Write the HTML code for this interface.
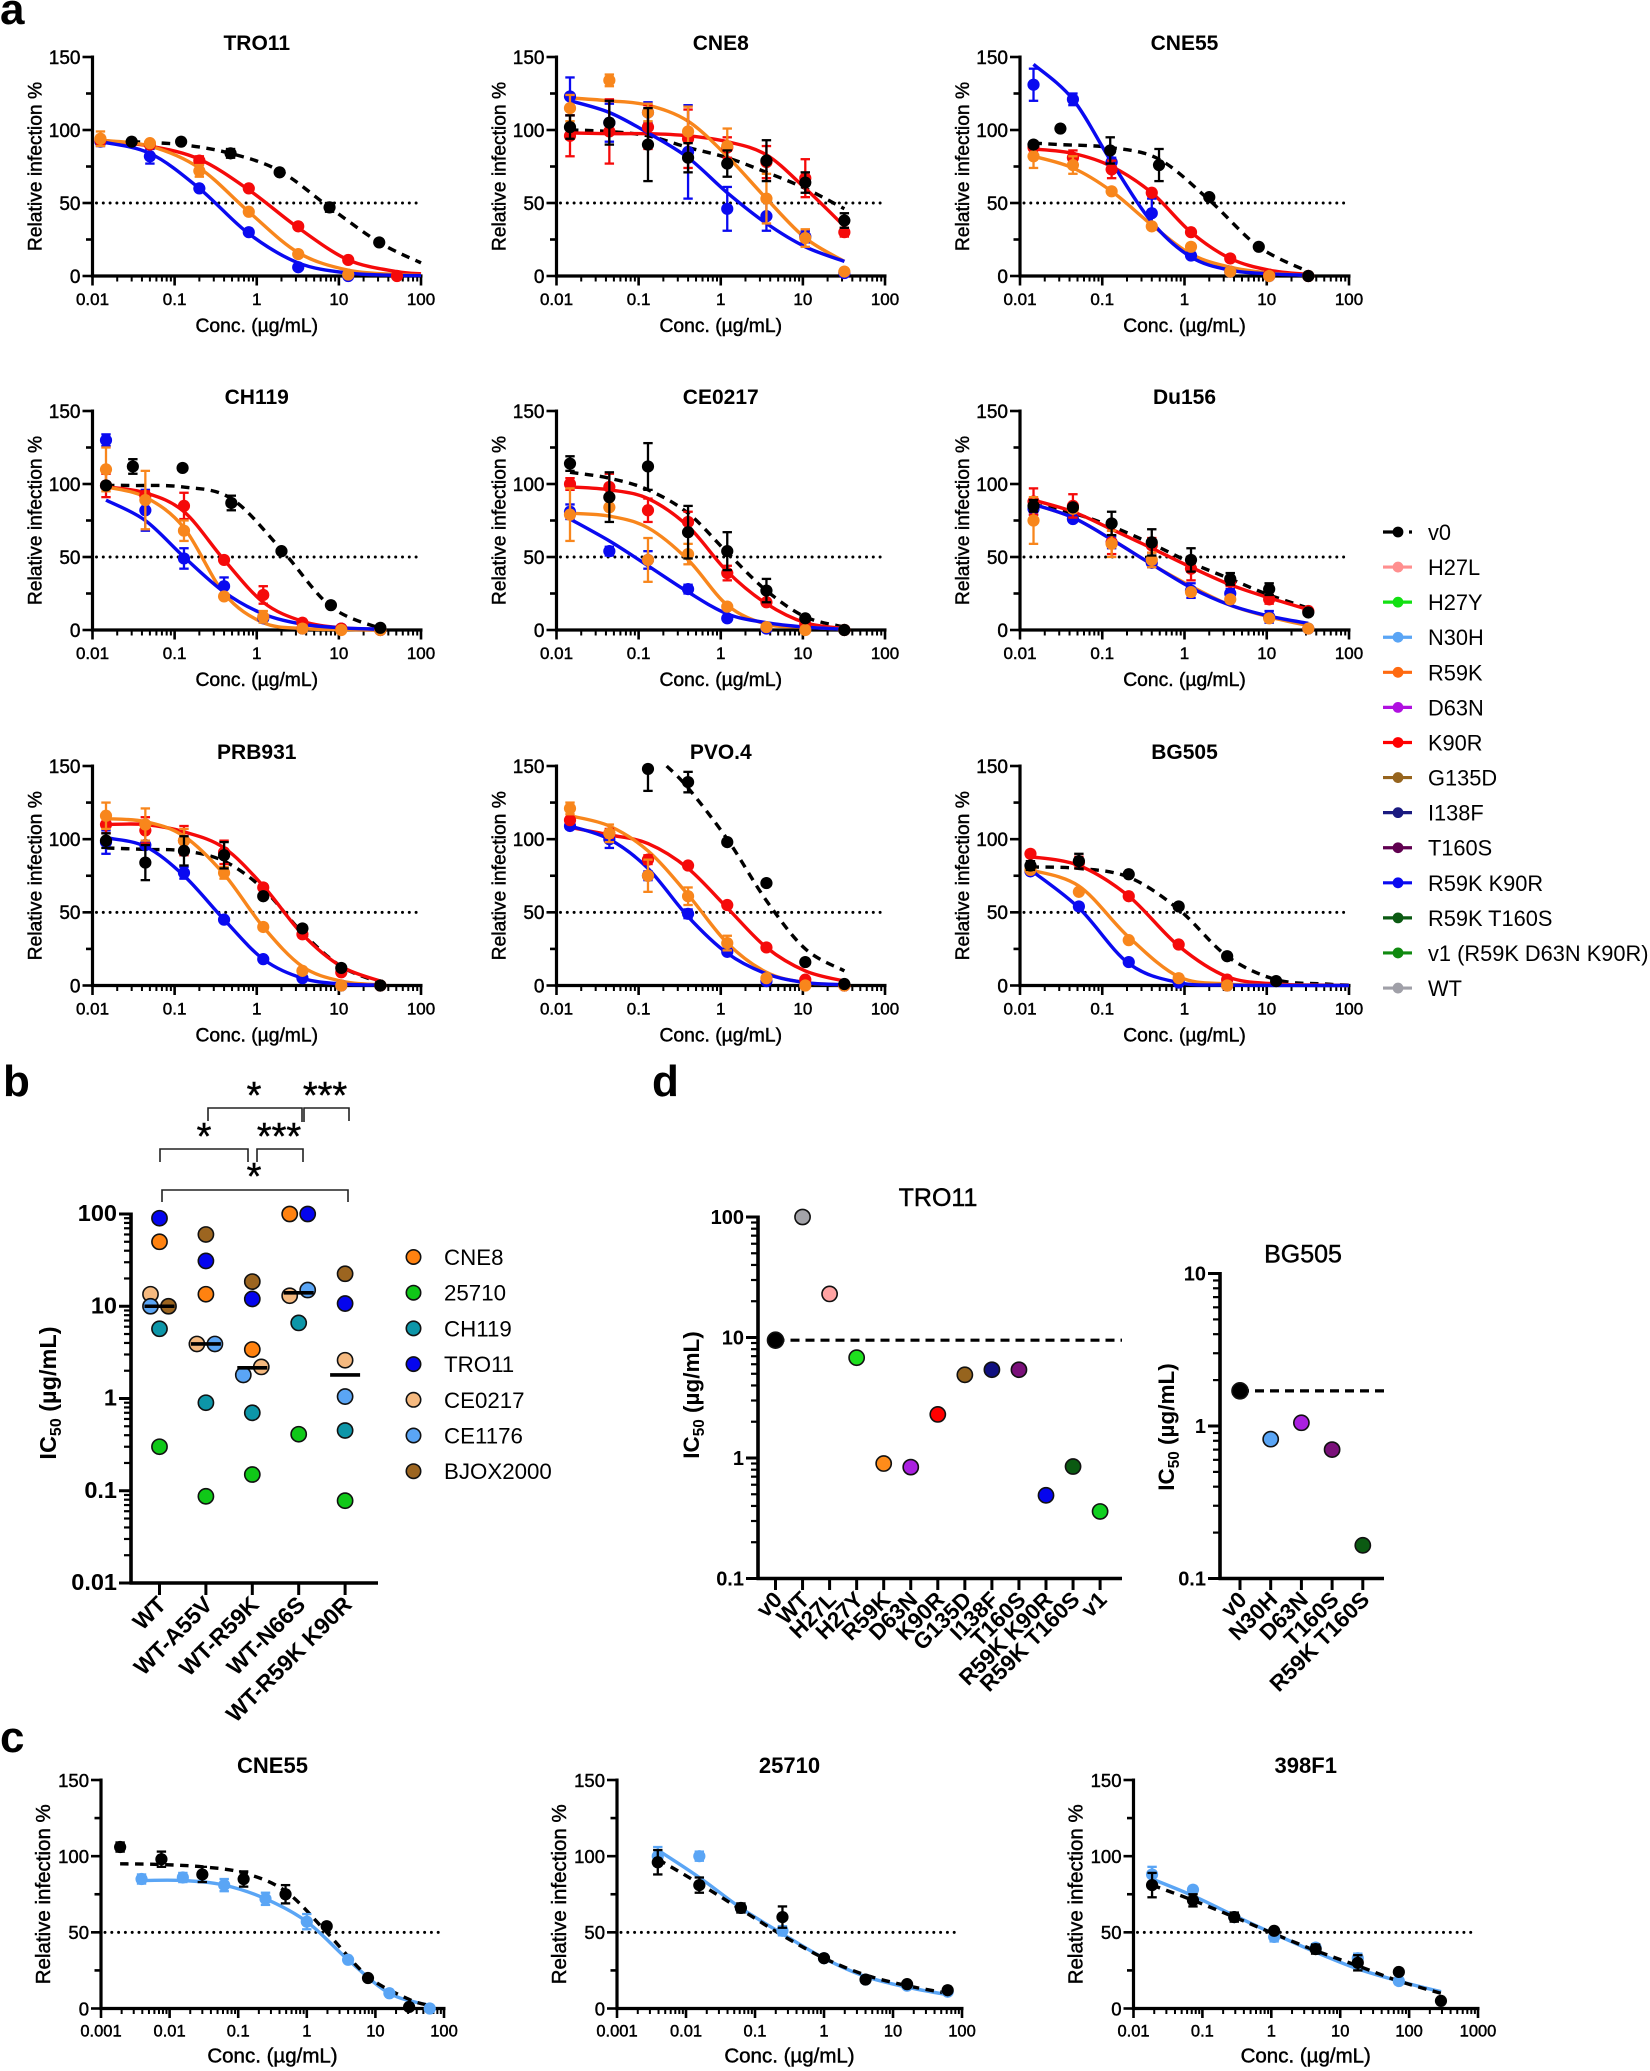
<!DOCTYPE html>
<html lang="en">
<head>
<meta charset="utf-8">
<title>Neutralization curves and IC50 panels</title>
<style>
html,body{margin:0;padding:0;background:#fff;}
svg{display:block;}
text{font-family:"Liberation Sans",Arial,sans-serif;fill:#000;}
.tk{stroke:#000;stroke-width:.45px;}
</style>
</head>
<body>
<svg id="figure" xmlns="http://www.w3.org/2000/svg" width="1650" height="2071" viewBox="0 0 1650 2071">
  <rect width="1650" height="2071" fill="#fff"/>
  <text x="0" y="24" font-size="44" font-weight="bold">a</text>
  <text x="3" y="1096" font-size="44" font-weight="bold">b</text>
  <text x="0" y="1752" font-size="44" font-weight="bold">c</text>
  <text x="652" y="1096" font-size="44" font-weight="bold">d</text>

  <g fill="none" stroke="#222" stroke-width="1.6">
    <path d="M208 1121V1108H302V1122"/>
    <path d="M304 1122V1108H349V1121"/>
    <path d="M160 1162V1149H248V1162"/>
    <path d="M257 1162V1149H303V1162"/>
    <path d="M162 1202V1190H348V1202"/>
  </g>
  <g font-size="38" text-anchor="middle" class="tk">
    <text x="254" y="1108">*</text>
    <text x="325" y="1108">***</text>
    <text x="204" y="1149">*</text>
    <text x="279" y="1149">***</text>
    <text x="254" y="1189">*</text>
  </g>
</svg>

<script>
/* ---------- shared dose axes ---------- */
const doses8 = [0.0146,0.044,0.13,0.40,1.2,3.6,10.7,32];
const dosesBlack = [0.0146,0.031,0.125,0.49,2,8,32];
const logTicksA = ['0.01','0.1','1','10','100'];
const infectionTicks = [0,25,50,75,100,125,150];
const infectionLabels = ['0','50','100','150'];

/* ---------- panel a: TRO11 ---------- */
const tro11Conc = [0.0125,0.05,0.2,0.8,3.2,13,51,100];
const tro11V0Conc = [0.03,0.12,0.48,1.9,7.7,31,100];
const tro11V0Val = [92,92,84,71,47,23,null];
const tro11V0Err = [1,1,3,1,3,1,null];
const tro11V0Fit = [92,90,84,72,47,23,9];
const tro11K90rVal = [93,90,79,60,34,11,0,null];
const tro11K90rErr = [3,1,3,1,1,1,0,null];
const tro11K90rFit = [93,89,80,59,33,11,3,1.5];
const tro11R59kVal = [94,91,72,44,15,1,null,null];
const tro11R59kErr = [5,1,4,1,2,0,null,null];
const tro11R59kFit = [93,89,74,44,16,4,1,0.5];
const tro11RkVal = [92,82,60,30,6,0,null,null];
const tro11RkErr = [3,5,1,1,1,0,null,null];
const tro11RkFit = [92,84,60,29,9,2,0.5,0.3];

/* ---------- panel a: CNE8 ---------- */
const cne8V0Val = [102,105,90,81,77,79,64,38];
const cne8V0Err = [8,15,25,10,9,14,7,5];
const cne8V0Fit = [100,99,96,88,81,71,60,46];
const cne8K90rVal = [96,99,102,94,88,78,67,30];
const cne8K90rErr = [14,22,15,20,7,11,13,3];
const cne8K90rFit = [98,97.5,97.5,96,92,83,60,34];
const cne8R59kVal = [115,134,112,99,89,53,26,3];
const cne8R59kErr = [9,4,6,17,12,17,6,1];
const cne8R59kFit = [122,120,117,106,82,53,26,10];
const cne8RkVal = [123,105,112,85,46,41,27,2];
const cne8RkErr = [13,13,7,32,15,10,4,1];
const cne8RkFit = [120,112,98,81,57,36,20,10];

/* ---------- panel a: CNE55 ---------- */
const cne55V0Val = [90,101,86,76,54,20,0];
const cne55V0Err = [2,0,9,11,0,0,0];
const cne55V0Fit = [91,90,88,80,52,20,3];
const cne55K90rVal = [88,81,73,57,30,12,1,0];
const cne55K90rErr = [4,5,6,2,1,1,0,0];
const cne55K90rFit = [87,84,75,57,30,12,4,1];
const cne55R59kVal = [82,76,58,34,20,3,0,0];
const cne55R59kErr = [8,6,1,1,2,1,0,0];
const cne55R59kFit = [82,74,58,35,15,6,2,0.5];
const cne55RkVal = [131,121,78,43,14,3,0,0];
const cne55RkErr = [11,4,3,10,1,0,0,0];
const cne55RkFit = [145,121,78,37,13,4,1.5,0.5];

/* ---------- panel a: CH119 ---------- */
const ch119V0Val = [99,112,111,87,54,17,1.5];
const ch119V0Err = [1,5,1,5,1,1,1];
const ch119V0Fit = [99,99,98,90,55,16,1];
const ch119K90rVal = [99,92,85,48,24,5,1,0];
const ch119K90rErr = [8,3,9,1,6,1,0,0];
const ch119K90rFit = [98,94,81,48,19,6,1.5,0.5];
const ch119R59kVal = [110,89,68,23,9,1,0,0];
const ch119R59kErr = [15,20,7,1,4,1,0,0];
const ch119R59kFit = [98,91,70,25,5,1,0.3,0];
const ch119RkVal = [130,82,49,30,8,1,1,0];
const ch119RkErr = [4,14,7,6,2,0,0,0];
const ch119RkFit = [89,75,50,26,11,4,1.5,0.5];

/* ---------- panel a: CE0217 ---------- */
const ce0217V0Val = [114,91,112,67,54,27,8,0];
const ce0217V0Err = [5,17,16,18,13,8,1,0];
const ce0217V0Fit = [108,104,96,80,53,27,9,2];
const ce0217K90rVal = [100,98,82,74,39,19,4,0];
const ce0217K90rErr = [4,9,8,7,5,2,1,0];
const ce0217K90rFit = [98,96,90,71,40,18,5,1];
const ce0217R59kVal = [79,84,48,52,16,2,0,0];
const ce0217R59kErr = [18,1,15,7,2,1,0,0];
const ce0217R59kFit = [80,78,70,48,17,4,2,0.5];
const ce0217RkVal = [81,54,48,28,8,1,1,0];
const ce0217RkErr = [5,3,6,3,2,0,0,0];
const ce0217RkFit = [76,61,44,26,11,5,2,0.5];

/* ---------- panel a: Du156 ---------- */
const du156V0Val = [85,84,73,60,48,35,28,12];
const du156V0Err = [4,2,8,9,8,4,4,1];
const du156V0Fit = [86,80,71,59,46,35,24,15];
const du156K90rVal = [88,85,60,58,42,33,21,13];
const du156K90rErr = [9,8,8,5,8,3,3,1];
const du156K90rFit = [89,81,69,56,43,31,22,14];
const du156R59kVal = [75,83,59,48,26,21,8,1];
const du156R59kErr = [16,2,9,5,2,2,2,1];
const du156R59kFit = [86,77,62,45,30,17,9,3];
const du156RkVal = [83,76,60,46,27,25,9,1];
const du156RkErr = [4,2,4,3,5,3,4,1];
const du156RkFit = [86,77,62,45,29,17,9.5,4.5];

/* ---------- panel a: PRB931 ---------- */
const prb931V0Val = [99,84,92,89,61,39,12,0];
const prb931V0Err = [5,12,10,9,1,2,2,1];
const prb931V0Fit = [94,93,92,85,66,36,13,2];
const prb931K90rVal = [110,106,99,91,67,35,9,0];
const prb931K90rErr = [6,9,10,8,2,2,1,0];
const prb931K90rFit = [110,110,105,94,68,35,13,3];
const prb931R59kVal = [116,110,99,77,40,10,0,0];
const prb931R59kErr = [9,11,8,4,2,1,0,0];
const prb931R59kFit = [114,112,102,76,40,13,3,0.5];
const prb931RkVal = [98,96,77,45,18,5,0,0];
const prb931RkErr = [8,2,4,1,1,1,0,0];
const prb931RkFit = [101,95,75,45,18,5,1,0.3];

/* ---------- panel a: PVO.4 ---------- */
const pvoV0Conc = [0.13,0.22,0.4,1.2,3.6,10.7,32];
const pvoV0Val = [148,null,139,98,70,16,1];
const pvoV0Err = [15,null,7,2,1,1,0];
const pvoV0Fit = [null,150,135,100,58,25,10];
const pvoK90rVal = [113,104,86,82,55,26,4,0];
const pvoK90rErr = [2,3,3,1,1,1,1,0];
const pvoK90rFit = [108,103,97,80,53,26,10,3];
const pvoR59kVal = [121,104,75,61,29,5,0,0];
const pvoR59kErr = [4,6,11,6,5,2,0,0];
const pvoR59kFit = [116,109,92,62,29,9,2,0.5];
const pvoRkVal = [109,100,75,49,23,3,1,0];
const pvoRkErr = [2,6,3,3,1,1,0,0];
const pvoRkFit = [109,100,80,47,22,8,2,0.5];

/* ---------- panel a: BG505 ---------- */
const bg505Conc = [0.0134,0.052,0.21,0.85,3.3,13,51,100];
const bg505V0Val = [82,85,76,54,20,3,null,null];
const bg505V0Err = [3,5,1,1,1,0,null,null];
const bg505V0Fit = [81,80,74,52,20,4,1,0.3];
const bg505K90rVal = [90,84,61,28,4,null,null,null];
const bg505K90rErr = [2,4,1,1,1,null,null,null];
const bg505K90rFit = [88,82,61,27,6,1,0.3,0.1];
const bg505R59kVal = [79,64,31,5,0,null,null,null];
const bg505R59kErr = [1,1,1,1,0,null,null,null];
const bg505R59kFit = [79,68,33,6,1,0.2,0.1,0];
const bg505RkVal = [78,54,16,2,0,null,null,null];
const bg505RkErr = [1,2,1,1,0,null,null,null];
const bg505RkFit = [79,53,15,2,0.3,0.1,0,0];

/* ---------- panel c ---------- */
const cCne55V0Conc = [0.0019,0.0076,0.03,0.12,0.49,1.95,7.8,31,62];
const cCne55V0Val = [106,98,88,85,75,54,20,1,null];
const cCne55V0Err = [3,5,5,5,6,1,1,0,null];
const cCne55V0Fit = [95,94.5,93,89,77,50,21,6,2];
const cDoses = [0.0039,0.0156,0.0625,0.25,1,4,16,62];
const cCne55N30hVal = [85,86,81,72,57,32,10,0];
const cCne55N30hErr = [3,3,4,4,5,1,1,0];
const cCne55N30hFit = [84,84,81,72,57,32,10,2];
const c25710V0Val = [96,81,66,60,33,19,16,12];
const c25710V0Err = [8,5,3,7,1,2,1,1];
const c25710V0Fit = [98,82,65,48,33,22,15,10];
const c25710N30hVal = [100,100,66,51,33,19,15,11];
const c25710N30hErr = [6,3,2,3,1,1,1,1];
const c25710N30hFit = [104,86,66,49,33,21,14,9];
const c398Doses = [0.0186,0.073,0.29,1.1,4.4,18,71,290];
const c398V0Val = [81,71,60,51,39,30,24,5];
const c398V0Err = [8,4,3,1,3,5,1,1];
const c398V0Fit = [81,71,60,49,38,28,18,10];
const c398N30hVal = [88,78,60,47,40,33,18,null];
const c398N30hErr = [5,2,2,3,2,3,2,null];
const c398N30hFit = [85,74,61,49,37,26,18,11];

/* ---------- panel b ---------- */
const bCategories = ['WT','WT-A55V','WT-R59K','WT-N66S','WT-R59K K90R'];
const bStrains = ['BJOX2000','CNE8','TRO11','CE0217','CE1176','CH119','25710'];
const bjox2000Ic50 = [10,60,18.5,null,22.5];
const cne8Ic50 = [50,13.5,3.4,100,null];
const tro11Ic50 = [90,31,12,100,10.7];
const ce0217Ic50 = [13.5,3.9,2.2,13,2.6];
const ce1176Ic50 = [10,3.9,1.8,15,1.05];
const ch119Ic50 = [5.7,0.9,0.7,6.6,0.45];
const strain25710Ic50 = [0.3,0.087,0.15,0.41,0.078];
const bMedians = [10,3.9,2.15,14,1.8];
const bTickLabels = ['0.01','0.1','1','10','100'];

/* ---------- panel d ---------- */
const dTroCategories = ['v0','WT','H27L','H27Y','R59K','D63N','K90R','G135D','I138F','T160S','R59K K90R','R59K T160S','v1'];
const dTroIc50 = [9.5,100,23,6.8,0.9,0.84,2.3,4.9,5.4,5.4,0.49,0.85,0.36];
const dTroTicks = ['0.1','1','10','100'];
const dBgCategories = ['v0','N30H','D63N','T160S','R59K T160S'];
const dBgIc50 = [1.7,0.82,1.05,0.7,0.165];
const dBgTicks = ['0.1','1','10'];

/* ---------- legends ---------- */
const legendLabels = ['v0','H27L','H27Y','N30H','R59K','D63N','K90R','G135D','I138F','T160S','R59K K90R','R59K T160S','v1 (R59K D63N K90R)','WT'];
const bLegendLabels = ['CNE8','25710','CH119','TRO11','CE0217','CE1176','BJOX2000'];

/* ---------- styles, kept apart from the data ---------- */
const COL = {v0:'#000',H27L:'#ff8f8f',H27Y:'#12e012',N30H:'#5aa5f5',R59K:'#f8861c',R59Kleg:'#ff6a10',D63N:'#b010e0',K90R:'#f50a0a',G135D:'#96641e',I138F:'#1a1a80',T160S:'#600050',RK:'#0a0af0',RT:'#0b5a12',V1:'#108a10',WT:'#a0a0a8'};
const legendColors = [COL.v0,COL.H27L,COL.H27Y,COL.N30H,COL.R59Kleg,COL.D63N,'#ff0000',COL.G135D,COL.I138F,COL.T160S,COL.RK,COL.RT,COL.V1,COL.WT];
const strainColor = {CNE8:'#ff8210','25710':'#10c818',CH119:'#0d96a8',TRO11:'#0505ee',CE0217:'#f5b97f',CE1176:'#5aa5f5',BJOX2000:'#9c6520'};
const dTroColors = ['#000','#a3a3a8','#ffa3a3','#1ee01e','#ff8c1a','#aa20e0','#ff0000','#96641e','#101080','#7a107a','#0505ee','#0b5a12','#10d020'];
const dBgColors = ['#000','#5aa5f5','#aa20e0','#7a107a','#0b5a12'];
const pointRank = {'R59K K90R':0,'N30H':0,'K90R':1,'R59K':2,'v0':3};
const swarmOffset = {'WT|CE0217':-9,'WT|CE1176':-9,'WT|BJOX2000':9,'WT-A55V|CE0217':-9,'WT-A55V|CE1176':9,'WT-R59K|CE0217':9,'WT-R59K|CE1176':-9,'WT-N66S|CNE8':-9,'WT-N66S|TRO11':9,'WT-N66S|CE0217':-9,'WT-N66S|CE1176':9};

const svg = document.getElementById('figure');
const NS = 'http://www.w3.org/2000/svg';
function mk(tag, attrs, parent){
  const n = document.createElementNS(NS, tag);
  for(const k in attrs){ n.setAttribute(k, attrs[k]); }
  (parent||svg).appendChild(n);
  return n;
}
function line(parent,x1,y1,x2,y2,stroke,w,nm){
  const l = mk('line',{x1:x1,y1:y1,x2:x2,y2:y2,stroke:stroke,'stroke-width':w},parent);
  
  
  return l;
}
function label(parent,x,y,str,size,anchor,weight,nm,transform){
  const t = mk('text',{x:x,y:y,'font-size':size,'text-anchor':anchor,'font-weight':weight,class:weight==='bold'?'':'tk'},parent);
  t.textContent = str;
  if(transform){ t.setAttribute('transform',transform); }
  
  
  return t;
}
function slug(s){ return String(s).toLowerCase().replace(/[^a-z0-9]+/g,'-').replace(/^-|-$/g,''); }
function smoothPath(pts){
  let d = 'M'+pts[0][0].toFixed(1)+' '+pts[0][1].toFixed(1);
  for(let i=0;i<pts.length-1;i++){
    const p0=pts[Math.max(i-1,0)],p1=pts[i],p2=pts[i+1],p3=pts[Math.min(i+2,pts.length-1)];
    const c1x=p1[0]+(p2[0]-p0[0])/6,c1y=p1[1]+(p2[1]-p0[1])/6;
    const c2x=p2[0]-(p3[0]-p1[0])/6,c2y=p2[1]-(p3[1]-p1[1])/6;
    d+=' C'+c1x.toFixed(1)+' '+c1y.toFixed(1)+' '+c2x.toFixed(1)+' '+c2y.toFixed(1)+' '+p2[0].toFixed(1)+' '+p2[1].toFixed(1);
  }
  return d;
}

/* dose-response panel */
function dosePanel(o){
  const g = mk('g',{});
  
  
  const xs = v => o.x0+(Math.log10(v)-o.lo)/(o.hi-o.lo)*(o.x1-o.x0);
  const ys = v => o.y0+(v/150)*(o.y150-o.y0);
  const mx = (o.x0+o.x1)/2;
  label(g,mx,o.y150-o.titleDy,o.title,o.titleSize,'middle','bold','chart-title');
  const ylx = o.x0-o.ylabOff, ylc = (o.y0+o.y150)/2;
  label(g,ylx,ylc,'Relative infection %',o.labelSize,'middle','normal','y-axis-title','rotate(-90 '+ylx+' '+ylc+')');
  label(g,mx,o.y0+o.conDy,'Conc. (µg/mL)',o.labelSize,'middle','normal','x-axis-title');
  /* dotted 50 line */
  const d = line(g,o.x0+4,ys(50),o.x1-3,ys(50),'#000',3,'reference-line-50');
  d.setAttribute('stroke-dasharray','0 6.8');
  d.setAttribute('stroke-linecap','round');
  /* axes */
  line(g,o.x0,o.y150-1.5,o.x0,o.y0+1.5,'#000',3.2,'y-axis');
  line(g,o.x0-1.5,o.y0,o.x1+1.5,o.y0,'#000',3.2,'x-axis');
  infectionTicks.forEach(v=>{
    const major = infectionLabels.indexOf(String(v))>=0;
    line(g,o.x0-(major?10:6.5),ys(v),o.x0,ys(v),'#000',2.6,'y-tick-'+v);
    if(major){ label(g,o.x0-12,ys(v)+6.8,String(v),o.tickSize+2,'end','normal','y-tick-label-'+v); }
  });
  o.xTicks.forEach((lab,i)=>{
    const dec = o.lo+i;
    const px = xs(Math.pow(10,dec));
    line(g,px,o.y0,px,o.y0+9.5,'#000',2.6,'x-tick-'+slug(lab));
    label(g,px,o.y0+o.tickDy,lab,o.tickSize,'middle','normal','x-tick-label-'+slug(lab));
    if(i<o.xTicks.length-1){
      for(let m=2;m<10;m++){
        const mp = xs(m*Math.pow(10,dec));
        line(g,mp,o.y0,mp,o.y0+5.5,'#000',2,'x-minor-tick');
      }
    }
  });
  /* fitted curves first, listed order */
  o.series.forEach(s=>{
    const pts = [];
    s.conc.forEach((c,i)=>{ if(s.fit[i]!==null){ pts.push([xs(c),ys(s.fit[i])]); } });
    const attrs = {d:smoothPath(pts),fill:'none',stroke:s.color,'stroke-width':3.4};
    if(s.dash){ attrs['stroke-dasharray']='8.5 6.5'; }
    const fit = mk('path',attrs,g);
    
    
  });
  /* points and error bars above the curves */
  o.series.slice().sort((a,b)=>pointRank[a.name]-pointRank[b.name]).forEach(s=>{
    const sg = mk('g',{},g);
    
    
    s.conc.forEach((c,i)=>{
      const v = s.val[i];
      if(v===null){ return; }
      const px = xs(c), py = ys(v), e = s.err[i];
      if(e){
        const hi = ys(Math.min(v+e,150)), lo = ys(Math.max(v-e,0));
        line(sg,px,hi,px,lo,s.color,2.3,'error-bar');
        if(v+e<=150){ line(sg,px-4.7,hi,px+4.7,hi,s.color,2.3,'error-cap'); }
        line(sg,px-4.7,lo,px+4.7,lo,s.color,2.3,'error-cap');
      }
      const dot = mk('circle',{cx:px,cy:py,r:6.1,fill:s.color},sg);
      
      
    });
  });
}
function makeSeries(name,color,conc,val,err,fit,dash){
  return {name:name,color:color,conc:conc,val:val,err:err,fit:fit,dash:!!dash};
}
function fourSeries(v0Conc,v0Val,v0Err,v0Fit,conc,kv,ke,kf,rv,re,rf,bv,be,bf){
  return [
    makeSeries('v0',COL.v0,v0Conc,v0Val,v0Err,v0Fit,true),
    makeSeries('K90R',COL.K90R,conc,kv,ke,kf),
    makeSeries('R59K',COL.R59K,conc,rv,re,rf),
    makeSeries('R59K K90R',COL.RK,conc,bv,be,bf)
  ];
}
const colX = [[92.5,421],[556.5,885],[1020,1349]];
const rowY = [[57,276],[411,630],[766,985.5]];
function aPanel(col,row,title,series){
  dosePanel({title:title,suffix:'',series:series,x0:colX[col][0],x1:colX[col][1],y150:rowY[row][0],y0:rowY[row][1],lo:-2,hi:2,xTicks:logTicksA,titleSize:21,labelSize:19.3,tickSize:17,titleDy:7,ylabOff:51,conDy:56,tickDy:29});
}
aPanel(0,0,'TRO11',fourSeries(tro11V0Conc,tro11V0Val,tro11V0Err,tro11V0Fit,tro11Conc,tro11K90rVal,tro11K90rErr,tro11K90rFit,tro11R59kVal,tro11R59kErr,tro11R59kFit,tro11RkVal,tro11RkErr,tro11RkFit));
aPanel(1,0,'CNE8',fourSeries(doses8,cne8V0Val,cne8V0Err,cne8V0Fit,doses8,cne8K90rVal,cne8K90rErr,cne8K90rFit,cne8R59kVal,cne8R59kErr,cne8R59kFit,cne8RkVal,cne8RkErr,cne8RkFit));
aPanel(2,0,'CNE55',fourSeries(dosesBlack,cne55V0Val,cne55V0Err,cne55V0Fit,doses8,cne55K90rVal,cne55K90rErr,cne55K90rFit,cne55R59kVal,cne55R59kErr,cne55R59kFit,cne55RkVal,cne55RkErr,cne55RkFit));
aPanel(0,1,'CH119',fourSeries(dosesBlack,ch119V0Val,ch119V0Err,ch119V0Fit,doses8,ch119K90rVal,ch119K90rErr,ch119K90rFit,ch119R59kVal,ch119R59kErr,ch119R59kFit,ch119RkVal,ch119RkErr,ch119RkFit));
aPanel(1,1,'CE0217',fourSeries(doses8,ce0217V0Val,ce0217V0Err,ce0217V0Fit,doses8,ce0217K90rVal,ce0217K90rErr,ce0217K90rFit,ce0217R59kVal,ce0217R59kErr,ce0217R59kFit,ce0217RkVal,ce0217RkErr,ce0217RkFit));
aPanel(2,1,'Du156',fourSeries(doses8,du156V0Val,du156V0Err,du156V0Fit,doses8,du156K90rVal,du156K90rErr,du156K90rFit,du156R59kVal,du156R59kErr,du156R59kFit,du156RkVal,du156RkErr,du156RkFit));
aPanel(0,2,'PRB931',fourSeries(doses8,prb931V0Val,prb931V0Err,prb931V0Fit,doses8,prb931K90rVal,prb931K90rErr,prb931K90rFit,prb931R59kVal,prb931R59kErr,prb931R59kFit,prb931RkVal,prb931RkErr,prb931RkFit));
aPanel(1,2,'PVO.4',fourSeries(pvoV0Conc,pvoV0Val,pvoV0Err,pvoV0Fit,doses8,pvoK90rVal,pvoK90rErr,pvoK90rFit,pvoR59kVal,pvoR59kErr,pvoR59kFit,pvoRkVal,pvoRkErr,pvoRkFit));
aPanel(2,2,'BG505',fourSeries(bg505Conc,bg505V0Val,bg505V0Err,bg505V0Fit,bg505Conc,bg505K90rVal,bg505K90rErr,bg505K90rFit,bg505R59kVal,bg505R59kErr,bg505R59kFit,bg505RkVal,bg505RkErr,bg505RkFit));

function cPanel(x0,x1,lo,hi,ticks,title,series){
  dosePanel({title:title,suffix:'-panel-c',series:series,x0:x0,x1:x1,y150:1780,y0:2008.5,lo:lo,hi:hi,xTicks:ticks,titleSize:22,labelSize:20.5,tickSize:16.5,titleDy:7,ylabOff:51,conDy:54,tickDy:28});
}
const logTicksC = ['0.001','0.01','0.1','1','10','100'];
const logTicksD = ['0.01','0.1','1','10','100','1000'];
cPanel(101,444,-3,2,logTicksC,'CNE55',[makeSeries('N30H',COL.N30H,cDoses,cCne55N30hVal,cCne55N30hErr,cCne55N30hFit),makeSeries('v0',COL.v0,cCne55V0Conc,cCne55V0Val,cCne55V0Err,cCne55V0Fit,true)]);
cPanel(617,962,-3,2,logTicksC,'25710',[makeSeries('N30H',COL.N30H,cDoses,c25710N30hVal,c25710N30hErr,c25710N30hFit),makeSeries('v0',COL.v0,cDoses,c25710V0Val,c25710V0Err,c25710V0Fit,true)]);
cPanel(1133.5,1478,-2,3,logTicksD,'398F1',[makeSeries('N30H',COL.N30H,c398Doses,c398N30hVal,c398N30hErr,c398N30hFit),makeSeries('v0',COL.v0,c398Doses,c398V0Val,c398V0Err,c398V0Fit,true)]);

/* log y axis shared by b and d */
function logAxis(g,x0,xr,yTop,yBot,lo,hi,labels,fontSize){
  const ys = v => yBot-(Math.log10(v)-lo)/(hi-lo)*(yBot-yTop);
  line(g,x0,yTop-1.5,x0,yBot+1.5,'#000',3.6,'y-axis');
  line(g,x0-1.5,yBot,xr,yBot,'#000',3.6,'x-axis');
  labels.forEach((lab,i)=>{
    const dec = lo+i;
    const py = ys(Math.pow(10,dec));
    line(g,x0-12,py,x0,py,'#000',3,'y-tick-'+slug(lab));
    label(g,x0-14,py+7,lab,fontSize,'end','bold','y-tick-label-'+slug(lab));
    if(i<labels.length-1){
      for(let m=2;m<10;m++){
        const my = ys(m*Math.pow(10,dec));
        line(g,x0-7,my,x0,my,'#000',2.2,'y-minor-tick');
      }
    }
  });
  return ys;
}
function ic50Title(g,x,y,size,nm){
  const t = mk('text',{x:x,y:y,'font-size':size,'text-anchor':'middle','font-weight':'bold',transform:'rotate(-90 '+x+' '+y+')'},g);
  
  
  const a = mk('tspan',{},t); a.textContent='IC';
  const b = mk('tspan',{dy:5,'font-size':size*0.68},t); b.textContent='50';
  const c = mk('tspan',{dy:-5},t); c.textContent=' (µg/mL)';
}

/* panel b */
(function(){
  const g = mk('g',{});
  
  
  const ys = logAxis(g,131,378,1214,1583,-2,2,bTickLabels,23.5);
  ic50Title(g,56,1393,23.5,'y-axis-title');
  const cx = i => 159.5+i*46.4;
  bCategories.forEach((c,i)=>{
    line(g,cx(i),1583,cx(i),1595,'#000',3,'x-tick-'+slug(c));
    label(g,cx(i)+8,1606,c,23,'end','bold','x-tick-label-'+slug(c),'rotate(-45 '+(cx(i)+8)+' 1606)');
  });
  const valuesByStrain = {BJOX2000:bjox2000Ic50,CNE8:cne8Ic50,TRO11:tro11Ic50,CE0217:ce0217Ic50,CE1176:ce1176Ic50,CH119:ch119Ic50,'25710':strain25710Ic50};
  bStrains.forEach(st=>{
    valuesByStrain[st].forEach((v,i)=>{
      if(v===null){ return; }
      const off = swarmOffset[bCategories[i]+'|'+st]||0;
      const dot = mk('circle',{cx:cx(i)+off,cy:ys(v),r:7.6,fill:strainColor[st],stroke:'#111','stroke-width':1.6},g);
      
      
    });
  });
  bMedians.forEach((m,i)=>{
    line(g,cx(i)-15,ys(m),cx(i)+15,ys(m),'#000',3.6,'median-'+slug(bCategories[i]));
  });
  const lg = mk('g',{},g);
  
  
  bLegendLabels.forEach((s,i)=>{
    const y = 1257+i*35.7;
    const dot = mk('circle',{cx:413.5,cy:y,r:7.2,fill:strainColor[s],stroke:'#111','stroke-width':1.6},lg);
    
    
    const t = mk('text',{x:444,y:y+8,'font-size':22.3},lg);
    t.textContent = s;
    
    
  });
})();

/* panel d */
function dPanel(o){
  const g = mk('g',{});
  
  
  const ys = logAxis(g,o.x0,o.xr,o.yTop,1578.5,-1,o.hi,o.ticks,20);
  label(g,o.titleX,o.yTop-11,o.title,25,'middle','normal','chart-title');
  ic50Title(g,o.ylx,o.ylc,22.5,'y-axis-title');
  const cx = i => o.c0+i*o.step;
  const dash = line(g,cx(0),ys(o.vals[0]),o.xr,ys(o.vals[0]),'#000',3.2,'reference-line-v0');
  dash.setAttribute('stroke-dasharray','9 6');
  o.cats.forEach((c,i)=>{
    line(g,cx(i),1578.5,cx(i),1590,'#000',3,'x-tick-'+slug(c));
    label(g,cx(i)+8,1601,c,22.5,'end','bold','x-tick-label-'+slug(c),'rotate(-45 '+(cx(i)+8)+' 1601)');
    const dot = mk('circle',{cx:cx(i),cy:ys(o.vals[i]),r:i===0?8:7.6,fill:o.colors[i],stroke:'#111','stroke-width':1.6},g);
    
    
  });
}
dPanel({title:'TRO11',x0:758,xr:1122,yTop:1217,hi:2,ticks:dTroTicks,titleX:938,ylx:699,ylc:1395,c0:775.5,step:27.05,cats:dTroCategories,vals:dTroIc50,colors:dTroColors});
dPanel({title:'BG505',x0:1220,xr:1384,yTop:1273.5,hi:1,ticks:dBgTicks,titleX:1303,ylx:1174,ylc:1427,c0:1240,step:30.7,cats:dBgCategories,vals:dBgIc50,colors:dBgColors});

/* variant legend */
(function(){
  const lg = mk('g',{});
  
  
  legendLabels.forEach((s,i)=>{
    const y = 532+i*35.08;
    const ln = line(lg,1383,y,1412,y,legendColors[i],3.2,'legend-line-'+slug(s));
    if(i===0){ ln.setAttribute('stroke-dasharray','10 16 3 0'); }
    const dot = mk('circle',{cx:1398,cy:y,r:5.4,fill:legendColors[i]},lg);
    
    
    const t = mk('text',{x:1428,y:y+8,'font-size':21.8},lg);
    t.textContent = s;
    
    
  });
})();
</script>
</body>
</html>
